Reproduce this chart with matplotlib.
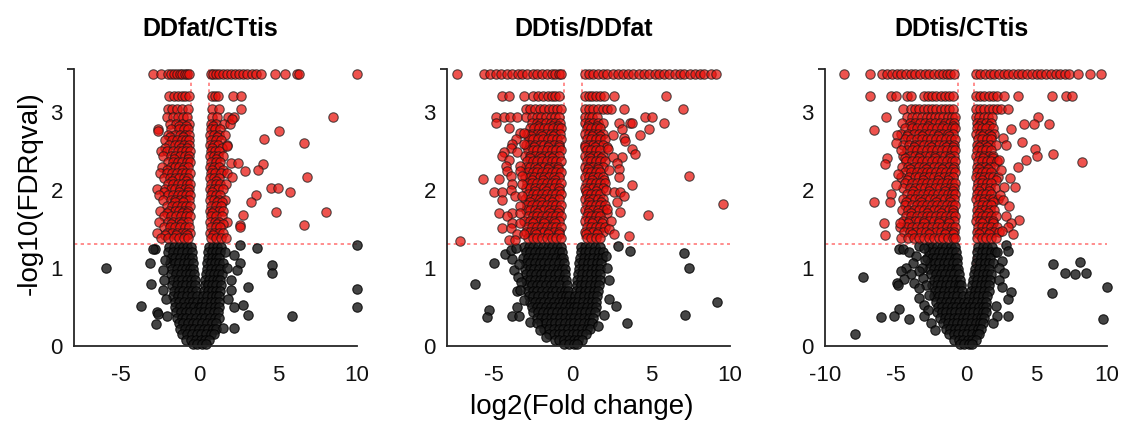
import matplotlib.pyplot as plt

plt.rcParams['font.family'] = ['Liberation Sans', 'DejaVu Sans']
plt.rcParams['axes.unicode_minus'] = False

titles = ['DDfat/CTtis', 'DDtis/DDfat', 'DDtis/CTtis']
x_limits = [(-8, 10), (-8, 10), (-10, 10)]
x_ticks = [[-5, 0, 5, 10], [-5, 0, 5, 10], [-10, -5, 0, 5, 10]]
y_ticks = [0, 1, 2, 3]
y_max = 3.55
fc_cut = 0.585    # log2(1.5)
fdr_cut = 1.301   # -log10(0.05)

# ---------------- DDfat/CTtis ----------------
# significant genes, grouped by -log10(q) level
p1_sig_rows = [
    (3.48, [-2.98, -2.45, -2.05, -1.85, -1.65, -1.45, -1.28, -1.1, -0.95, -0.8, -0.68,
            0.7, 0.85, 1.05, 1.25, 1.5, 1.75, 2.0, 2.25, 2.5, 2.75, 3.0, 3.3, 3.6, 3.9,
            4.8, 5.4, 6.2, 6.3, 10.0]),
    (3.20, [-1.95, -1.65, -1.4, -1.15, -0.95, -0.7, 0.75, 0.95, 1.15, 2.1, 2.65]),
    (3.04, [-2.0, -1.75, -1.45, -1.1, -0.75, 0.8, 1.25, 2.6]),
    (2.93, [-2.1, -1.7, -1.4, -1.05, -0.8, 0.75, 1.1, 1.8, 2.15, 8.5]),
    (2.85, [-1.9, -1.5, -1.1, -0.7, 0.72, 1.05, 1.55, 1.9]),
    (2.82, [-1.3, -0.85, 0.85]),
    (2.78, [-2.65, -1.8, -1.35, -1.0, -0.72, 0.7, 0.95, 1.3]),
    (2.71, [-2.0, -1.6, -1.25, -0.95, -0.68, 0.68, 0.9, 1.2, 1.6]),
    (2.68, [-1.9, -1.05, 1.1]),
    (2.64, [-2.2, -1.75, -1.45, -1.15, -0.85, -0.66, 0.7, 1.0, 1.35]),
    (2.57, [-1.95, -1.55, -1.3, -1.0, -0.7, 0.67, 0.88, 1.15, 1.75]),
    (2.54, [-2.2, -1.2, -0.8, 0.8, 1.4]),
    (2.50, [-2.45, -2.1, -1.7, -1.4, -1.1, -0.85, -0.62, 0.7, 0.95, 1.25]),
    (2.43, [-2.35, -1.85, -1.55, -1.25, -0.95, -0.68, 0.68, 0.9, 1.15, 1.5]),
    (2.40, [-1.65, -0.75, 1.05]),
    (2.36, [-2.0, -1.7, -1.4, -1.1, -0.82, -0.62, 0.7, 1.0, 1.3]),
    (2.29, [-2.4, -1.85, -1.6, -1.3, -1.0, -0.72, 0.66, 0.88, 1.2]),
    (2.26, [-2.1, -1.15, 0.8, 1.45]),
    (2.22, [-2.55, -2.1, -1.75, -1.45, -1.15, -0.85, -0.62, 0.7, 0.98, 1.35, 1.7]),
    (2.15, [-2.3, -1.9, -1.6, -1.3, -1.0, -0.72, 0.68, 0.9, 1.2]),
    (2.12, [-1.75, -0.9, 1.05]),
    (2.08, [-2.0, -1.7, -1.4, -1.1, -0.82, -0.6, 0.7, 1.0, 1.3, 1.65]),
    (2.01, [-2.7, -2.2, -1.85, -1.55, -1.25, -0.95, -0.7, 0.66, 0.9, 1.15, 1.45]),
    (1.98, [-2.3, -1.35, -0.75, 0.8]),
    (1.94, [-2.6, -2.0, -1.7, -1.4, -1.1, -0.85, -0.62, 0.7, 1.0, 1.3]),
    (1.87, [-2.35, -1.85, -1.55, -1.25, -0.95, -0.7, 0.68, 0.92, 1.2, 1.6]),
    (1.84, [-1.6, -1.05, 1.1, 1.4]),
    (1.80, [-2.1, -1.75, -1.45, -1.15, -0.85, -0.62, 0.7, 1.0, 1.35]),
    (1.73, [-2.55, -1.95, -1.6, -1.3, -1.0, -0.72, 0.66, 0.9, 1.2, 1.5]),
    (1.70, [-2.1, -1.15, -0.8, 0.8]),
    (1.66, [-2.25, -1.85, -1.5, -1.2, -0.9, -0.64, 0.7, 1.05, 1.4]),
    (1.59, [-2.6, -2.0, -1.7, -1.35, -1.05, -0.78, 0.68, 0.95, 1.25, 1.7]),
    (1.56, [-1.85, -1.2, 1.1, 1.5]),
    (1.52, [-2.3, -1.9, -1.55, -1.25, -0.95, -0.68, 0.7, 1.0, 1.3]),
    (1.45, [-2.7, -2.1, -1.75, -1.45, -1.15, -0.85, -0.62, 0.66, 0.9, 1.2, 1.5]),
    (1.42, [-2.2, -1.5, -0.8, 0.82]),
    (1.38, [-2.45, -2.0, -1.65, -1.3, -1.0, -0.72, 0.7, 1.0, 1.35, 1.65]),
]
p1_sig_extra = [
    (-2.68, 2.76), (2.07, 2.91), (1.75, 2.56), (5.06, 2.76), (4.07, 2.65), (6.65, 2.6),
    (2.0, 2.35), (2.43, 2.35), (4.05, 2.33), (3.7, 2.26), (2.9, 2.24), (2.07, 2.17),
    (6.8, 2.17), (4.54, 2.03), (5.0, 2.02), (5.74, 1.98), (3.55, 1.94), (3.23, 1.84),
    (4.85, 1.72), (8.06, 1.72), (2.74, 1.68), (2.53, 1.55), (2.55, 1.53), (6.65, 1.55),
]
# non-significant genes
p1_ns_rows = [
    (1.27, [-1.95, -1.65, -1.35, -1.05, -0.8, -0.55, 0.6, 0.85, 1.1, 1.35]),
    (1.20, [-2.0, -1.7, -1.4, -1.1, -0.8, -0.52, 0.55, 0.8, 1.05, 1.3, 1.6]),
    (1.13, [-1.85, -1.55, -1.25, -0.95, -0.7, -0.5, 0.5, 0.75, 1.0, 1.25]),
    (1.06, [-1.9, -1.6, -1.3, -1.0, -0.72, -0.45, 0.48, 0.7, 0.95, 1.2, 1.45]),
    (0.99, [-1.75, -1.45, -1.15, -0.85, -0.6, -0.42, 0.45, 0.7, 1.0, 1.3]),
    (0.92, [-1.8, -1.5, -1.2, -0.9, -0.62, -0.38, 0.4, 0.65, 0.9, 1.15, 1.4]),
    (0.85, [-1.7, -1.4, -1.1, -0.8, -0.55, -0.33, 0.35, 0.6, 0.85, 1.1, 1.3]),
    (0.78, [-1.75, -1.45, -1.15, -0.85, -0.58, -0.3, 0.32, 0.55, 0.8, 1.05, 1.35]),
    (0.71, [-1.65, -1.35, -1.05, -0.75, -0.5, -0.25, 0.28, 0.5, 0.78, 1.05, 1.3]),
    (0.64, [-1.7, -1.4, -1.1, -0.8, -0.5, -0.2, 0.2, 0.45, 0.75, 1.0, 1.25]),
    (0.57, [-1.6, -1.3, -1.0, -0.7, -0.45, -0.15, 0.15, 0.4, 0.7, 0.95, 1.25]),
    (0.50, [-1.55, -1.25, -0.95, -0.65, -0.35, -0.08, 0.1, 0.35, 0.65, 0.95, 1.2]),
    (0.43, [-1.5, -1.2, -0.9, -0.6, -0.3, 0.0, 0.3, 0.6, 0.9, 1.15]),
    (0.36, [-1.45, -1.15, -0.85, -0.55, -0.25, 0.05, 0.35, 0.65, 0.95, 1.2]),
    (0.29, [-1.35, -1.05, -0.75, -0.45, -0.15, 0.15, 0.45, 0.75, 1.05]),
    (0.22, [-1.25, -0.95, -0.65, -0.35, -0.05, 0.25, 0.55, 0.85, 1.05]),
    (0.15, [-1.1, -0.8, -0.5, -0.2, 0.1, 0.4, 0.7, 0.9]),
    (0.08, [-0.85, -0.55, -0.25, 0.05, 0.35, 0.6]),
    (0.02, [-0.45, -0.15, 0.15, 0.4]),
]
p1_ns_extra = [
    (-5.95, 1.0), (-2.85, 1.24), (-3.0, 1.24), (-3.16, 1.07), (-2.32, 0.97), (-2.2, 1.1),
    (-3.12, 0.8), (-2.25, 0.85), (-2.32, 0.72), (-3.73, 0.51), (-2.15, 0.6), (-2.7, 0.44),
    (-2.64, 0.41), (-2.1, 0.38), (-2.78, 0.28),
    (2.53, 1.29), (3.63, 1.25), (10.0, 1.29), (2.2, 1.17), (2.53, 1.06), (4.6, 1.04),
    (4.6, 0.93), (2.38, 0.97), (1.75, 1.0), (1.97, 0.85), (3.06, 0.76), (10.0, 0.73),
    (2.0, 0.72), (1.8, 0.6), (2.2, 0.5), (2.74, 0.53), (10.0, 0.5), (3.06, 0.4),
    (5.86, 0.38), (2.17, 0.23), (1.47, 0.23),
]

# ---------------- DDtis/DDfat ----------------
p2_sig_rows = [
    (3.48, [-7.36, -5.66, -5.25, -4.9, -4.55, -4.2, -3.85, -3.5, -3.2, -2.9, -2.55, -2.25,
            -1.95, -1.65, -1.35, -1.1, -0.9, -0.72,
            0.75, 1.0, 1.3, 1.6, 1.9, 2.2, 2.55, 2.9, 3.2, 3.5, 3.85, 4.2, 4.5, 4.85, 5.2,
            5.5, 5.8, 6.15, 6.5, 6.8, 7.1, 7.45, 7.8, 8.1, 8.35, 8.8, 9.1]),
    (3.21, [-4.5, -4.07, -3.12, -2.5, -2.2, -1.9, -1.6, -1.35, -1.1, -0.85,
            0.75, 1.0, 1.25, 1.5, 1.75, 2.0, 2.6, 5.95]),
    (3.04, [-3.0, -2.7, -2.4, -2.1, -1.8, -1.5, -1.25, -1.0, -0.75,
            0.75, 1.0, 1.3, 1.6, 1.9, 2.2, 2.4, 3.28, 7.02]),
    (2.93, [-4.9, -4.4, -4.0, -3.55, -2.96, -2.6, -2.3, -2.0, -1.7, -1.4, -1.1, -0.85,
            0.75, 1.0, 1.25, 1.55, 4.62, 5.04]),
    (2.86, [-2.6, -2.3, -2.0, -1.7, -1.4, -1.1, -0.8, 0.75, 1.02, 1.3, 1.6, 1.9]),
    (2.82, [-2.2, -1.3, -0.95, 0.95, 1.55]),
    (2.79, [-2.75, -2.45, -2.15, -1.85, -1.55, -1.25, -0.95, -0.75, 0.88, 1.15, 1.45, 1.75]),
    (2.72, [-2.9, -2.6, -2.3, -2.0, -1.7, -1.4, -1.1, -0.82, 0.75, 1.02, 1.3, 1.6, 1.9]),
    (2.69, [-2.65, -1.95, -1.25, 1.2, 1.7]),
    (2.65, [-2.8, -2.5, -2.2, -1.9, -1.6, -1.3, -1.0, -0.76, 0.88, 1.15, 1.45, 1.75, 2.05]),
    (2.58, [-3.0, -2.7, -2.4, -2.1, -1.8, -1.5, -1.2, -0.9, 0.75, 1.02, 1.3, 1.6, 1.9]),
    (2.55, [-2.45, -1.6, -0.85, 0.8, 1.4, 2.2]),
    (2.51, [-2.85, -2.55, -2.25, -1.95, -1.65, -1.35, -1.05, -0.78, 0.88, 1.15, 1.45, 1.75]),
    (2.44, [-3.05, -2.7, -2.4, -2.1, -1.8, -1.5, -1.2, -0.9, 0.75, 1.02, 1.3, 1.6, 1.9]),
    (2.41, [-2.75, -2.0, -1.35, 1.1, 1.8]),
    (2.37, [-2.9, -2.55, -2.25, -1.95, -1.65, -1.35, -1.05, -0.78, 0.88, 1.15, 1.45, 1.75, 2.05]),
    (2.30, [-3.0, -2.7, -2.4, -2.1, -1.8, -1.5, -1.2, -0.92, 0.75, 1.02, 1.3, 1.6, 1.9]),
    (2.27, [-2.3, -1.55, -0.95, 0.95, 1.6]),
    (2.23, [-2.85, -2.55, -2.25, -1.95, -1.65, -1.35, -1.05, -0.76, 0.88, 1.15, 1.45, 1.75]),
    (2.16, [-3.05, -2.75, -2.45, -2.1, -1.8, -1.5, -1.2, -0.9, 0.75, 1.02, 1.3, 1.6, 1.9]),
    (2.13, [-2.6, -1.9, -1.1, 1.2, 2.0]),
    (2.09, [-2.9, -2.6, -2.3, -1.95, -1.65, -1.35, -1.05, -0.78, 0.88, 1.15, 1.45, 1.75, 2.05]),
    (2.02, [-3.0, -2.7, -2.4, -2.1, -1.8, -1.5, -1.2, -0.9, 0.75, 1.02, 1.3, 1.6, 1.9]),
    (1.99, [-2.4, -1.7, -0.85, 0.85, 1.5]),
    (1.95, [-2.85, -2.55, -2.25, -1.95, -1.65, -1.35, -1.05, -0.76, 0.88, 1.15, 1.45, 1.75]),
    (1.88, [-3.05, -2.75, -2.4, -2.1, -1.8, -1.5, -1.2, -0.9, 0.75, 1.02, 1.3, 1.6, 1.9]),
    (1.85, [-2.75, -2.05, -1.3, 1.05, 1.8]),
    (1.81, [-2.9, -2.6, -2.25, -1.95, -1.65, -1.35, -1.05, -0.78, 0.88, 1.15, 1.45, 1.75, 2.05]),
    (1.74, [-3.0, -2.7, -2.4, -2.1, -1.8, -1.5, -1.2, -0.9, 0.75, 1.02, 1.3, 1.6, 1.9]),
    (1.71, [-2.25, -1.45, -0.95, 0.95, 1.6, 2.15]),
    (1.67, [-2.85, -2.55, -2.25, -1.95, -1.65, -1.35, -1.05, -0.76, 0.88, 1.15, 1.45, 1.75]),
    (1.60, [-3.1, -2.75, -2.4, -2.1, -1.8, -1.5, -1.2, -0.9, 0.75, 1.02, 1.3, 1.6, 1.9]),
    (1.57, [-2.55, -1.85, -1.15, 1.2, 1.85]),
    (1.53, [-2.9, -2.6, -2.25, -1.95, -1.65, -1.35, -1.05, -0.78, 0.88, 1.15, 1.45, 1.75, 2.05]),
    (1.46, [-3.0, -2.7, -2.4, -2.1, -1.8, -1.5, -1.2, -0.9, 0.75, 1.02, 1.3, 1.6, 1.9]),
    (1.43, [-2.35, -1.6, -0.9, 0.85, 1.55]),
    (1.39, [-2.85, -2.55, -2.25, -1.95, -1.65, -1.35, -1.05, -0.76, 0.88, 1.15, 1.45, 1.75]),
]
p2_sig_extra = [
    (-4.9, 2.86), (-4.07, 2.79), (-3.33, 2.73), (-3.12, 2.73), (-3.6, 2.65), (-3.86, 2.59),
    (-3.12, 2.59), (-3.96, 2.54), (-4.38, 2.48), (-3.54, 2.48), (-4.48, 2.44), (-4.07, 2.39),
    (-4.27, 2.31), (-3.33, 2.31), (-4.17, 2.24), (-3.33, 2.24), (-3.96, 2.18), (-3.23, 2.18),
    (-5.74, 2.14), (-4.69, 2.14), (-3.86, 2.07), (-3.23, 2.07), (-3.96, 2.0), (-5.01, 1.98),
    (-4.48, 1.98), (-3.65, 1.92), (-3.23, 1.92), (-4.48, 1.87), (-3.33, 1.79), (-4.69, 1.7),
    (-3.86, 1.7), (-3.33, 1.7), (-4.17, 1.66), (-3.86, 1.57), (-3.33, 1.57), (-4.48, 1.51),
    (-3.96, 1.51), (-3.54, 1.44), (-3.12, 1.44), (-4.07, 1.36), (-3.65, 1.36), (-7.17, 1.34),
    (2.92, 2.86), (3.66, 2.86), (3.77, 2.86), (5.78, 2.86), (4.83, 2.78), (3.13, 2.78),
    (4.26, 2.71), (2.56, 2.71), (3.24, 2.67), (3.34, 2.63), (3.77, 2.53), (2.22, 2.53),
    (3.98, 2.46), (3.13, 2.42), (2.56, 2.42), (2.81, 2.35), (2.92, 2.27), (2.3, 2.25),
    (7.38, 2.18), (2.92, 2.16), (3.77, 2.06), (2.1, 2.0), (2.6, 1.97), (2.98, 1.97),
    (3.24, 1.92), (2.81, 1.84), (9.54, 1.82), (2.2, 1.75), (3.03, 1.72), (4.79, 1.68),
    (2.43, 1.6), (2.3, 1.5), (2.6, 1.43), (3.56, 1.41),
]
p2_ns_rows = [
    (1.27, [-3.1, -2.8, -2.5, -2.2, -1.9, -1.6, -1.3, -1.0, -0.73, 0.52, 0.8, 1.1, 1.4, 1.7]),
    (1.20, [-3.0, -2.7, -2.4, -2.1, -1.8, -1.5, -1.2, -0.9, -0.68, 0.5, 0.75, 1.05, 1.35, 1.65, 1.95]),
    (1.13, [-3.15, -2.85, -2.55, -2.25, -1.95, -1.65, -1.35, -1.05, -0.78, -0.62,
            0.45, 0.7, 1.0, 1.3, 1.6, 1.85]),
    (1.06, [-3.0, -2.7, -2.4, -2.1, -1.8, -1.5, -1.2, -0.9, -0.58, 0.42, 0.68, 0.95, 1.25, 1.55, 1.8]),
    (0.99, [-3.05, -2.75, -2.45, -2.15, -1.85, -1.55, -1.25, -0.95, -0.7, -0.52,
            0.38, 0.62, 0.9, 1.2, 1.5, 1.75]),
    (0.92, [-2.95, -2.65, -2.35, -2.05, -1.75, -1.45, -1.15, -0.85, -0.48,
            0.35, 0.6, 0.88, 1.15, 1.45, 1.7]),
    (0.85, [-3.0, -2.7, -2.4, -2.1, -1.8, -1.5, -1.2, -0.9, -0.65, -0.42,
            0.3, 0.55, 0.85, 1.15, 1.45, 1.7]),
    (0.78, [-2.9, -2.6, -2.3, -2.0, -1.7, -1.4, -1.1, -0.8, -0.36, 0.25, 0.5, 0.8, 1.1, 1.4, 1.65]),
    (0.71, [-2.85, -2.55, -2.25, -1.95, -1.65, -1.35, -1.05, -0.75, -0.5, -0.3,
            0.2, 0.45, 0.75, 1.05, 1.35, 1.6]),
    (0.64, [-2.8, -2.5, -2.2, -1.9, -1.6, -1.3, -1.0, -0.7, -0.45, -0.22,
            0.15, 0.4, 0.7, 1.0, 1.3, 1.55]),
    (0.57, [-2.7, -2.4, -2.1, -1.8, -1.5, -1.2, -0.9, -0.6, -0.35, -0.12,
            0.1, 0.35, 0.65, 0.95, 1.25, 1.5]),
    (0.50, [-2.6, -2.3, -2.0, -1.7, -1.4, -1.1, -0.8, -0.5, -0.2, 0.05, 0.3, 0.6, 0.9, 1.2, 1.45]),
    (0.43, [-2.5, -2.2, -1.9, -1.6, -1.3, -1.0, -0.7, -0.4, -0.1, 0.2, 0.5, 0.8, 1.1, 1.4]),
    (0.36, [-2.3, -2.0, -1.7, -1.4, -1.1, -0.8, -0.5, -0.2, 0.1, 0.4, 0.7, 1.0, 1.3]),
    (0.29, [-2.0, -1.7, -1.4, -1.1, -0.8, -0.5, -0.2, 0.1, 0.4, 0.7, 1.0, 1.2]),
    (0.22, [-1.8, -1.5, -1.2, -0.9, -0.6, -0.3, 0.0, 0.3, 0.6, 0.9, 1.1]),
    (0.15, [-1.5, -1.2, -0.9, -0.6, -0.3, 0.0, 0.3, 0.6, 0.85]),
    (0.08, [-1.15, -0.85, -0.55, -0.25, 0.05, 0.35, 0.6]),
    (0.02, [-0.55, -0.25, 0.05, 0.3]),
]
p2_ns_extra = [
    (-4.3, 1.18), (-5.04, 1.06), (-6.2, 0.8), (-3.87, 1.12), (-3.96, 1.23), (-3.6, 1.25),
    (-3.73, 0.97), (-3.4, 1.05), (-3.5, 0.89), (-3.3, 0.82), (-3.55, 0.7), (-3.34, 0.72),
    (-3.13, 0.59), (-3.54, 0.5), (-5.3, 0.46), (-5.47, 0.37), (-3.87, 0.38), (-3.45, 0.38),
    (-2.75, 0.31), (-2.3, 0.3), (-2.1, 0.2), (-1.7, 0.12),
    (2.9, 1.28), (3.63, 1.22), (2.1, 1.15), (7.09, 1.19), (7.4, 1.0), (2.2, 1.0), (2.3, 0.85),
    (2.3, 0.6), (2.74, 0.51), (9.18, 0.57), (7.15, 0.4), (2.0, 0.4), (3.48, 0.29), (1.6, 0.25),
]

# ---------------- DDtis/CTtis ----------------
p3_sig_rows = [
    (3.48, [-8.65, -6.8, -5.93, -5.6, -5.25, -4.9, -4.6, -4.25, -3.9, -3.6, -3.25, -2.9,
            -2.6, -2.25, -1.95, -1.65, -1.35, -1.1, -0.88,
            0.72, 1.0, 1.35, 1.7, 2.0, 2.35, 2.7, 3.0, 3.35, 3.7, 4.0, 4.35, 4.7, 5.0, 5.35,
            5.7, 6.0, 6.35, 6.7, 7.0, 7.3, 7.97, 8.8, 9.6]),
    (3.20, [-6.8, -5.34, -4.98, -4.2, -3.92, -3.0, -2.7, -2.4, -2.1, -1.8, -1.5, -1.2, -0.9,
            0.72, 1.0, 1.3, 1.6, 1.9, 2.2, 2.7, 3.71, 6.08, 7.07, 7.54]),
    (3.04, [-4.5, -3.9, -3.6, -3.3, -3.0, -2.7, -2.4, -2.1, -1.8, -1.5, -1.2, -0.9,
            0.7, 1.0, 1.3, 1.6, 1.9, 2.2, 2.5, 3.0]),
    (2.93, [-5.7, -4.2, -3.8, -3.45, -3.1, -2.8, -2.5, -2.2, -1.9, -1.6, -1.3, -1.0, -0.8,
            0.7, 0.95, 1.25, 1.55, 1.85, 5.08]),
    (2.86, [-4.55, -4.0, -3.6, -3.25, -2.9, -2.55, -2.2, -1.85, -1.5, -1.15, -0.82,
            0.75, 1.05, 1.4, 1.75]),
    (2.82, [-3.9, -2.7, -1.6, -0.95, 0.95, 1.6]),
    (2.79, [-4.3, -3.85, -3.45, -3.1, -2.75, -2.4, -2.05, -1.7, -1.35, -1.0, -0.78,
            0.8, 1.12, 1.45, 1.9]),
    (2.72, [-4.6, -4.1, -3.7, -3.35, -3.0, -2.65, -2.3, -1.95, -1.6, -1.25, -0.9,
            0.72, 1.0, 1.3, 1.62, 2.0]),
    (2.69, [-4.2, -3.1, -2.0, -1.2, 1.15, 1.8]),
    (2.65, [-4.35, -3.9, -3.5, -3.15, -2.8, -2.45, -2.1, -1.75, -1.4, -1.05, -0.8,
            0.85, 1.15, 1.48, 1.8]),
    (2.58, [-4.5, -4.05, -3.65, -3.3, -2.95, -2.6, -2.25, -1.9, -1.55, -1.2, -0.88,
            0.75, 1.05, 1.35, 1.68, 2.1]),
    (2.55, [-3.7, -2.5, -1.45, -0.9, 0.9, 1.5]),
    (2.51, [-4.2, -3.8, -3.45, -3.1, -2.75, -2.4, -2.05, -1.7, -1.35, -1.0, -0.78,
            0.8, 1.1, 1.42, 1.75]),
    (2.44, [-4.45, -4.0, -3.6, -3.25, -2.9, -2.55, -2.2, -1.85, -1.5, -1.15, -0.85,
            0.72, 1.0, 1.3, 1.62, 1.95]),
    (2.41, [-4.3, -3.3, -2.2, -1.1, 1.2, 1.9]),
    (2.37, [-4.25, -3.85, -3.45, -3.1, -2.75, -2.4, -2.05, -1.7, -1.35, -1.0, -0.78,
            0.85, 1.15, 1.48, 1.8, 2.2]),
    (2.30, [-4.55, -4.1, -3.7, -3.3, -2.95, -2.6, -2.25, -1.9, -1.55, -1.2, -0.88,
            0.75, 1.05, 1.35, 1.68, 2.0]),
    (2.27, [-3.95, -2.85, -1.7, -0.95, 0.95, 1.55]),
    (2.23, [-4.3, -3.9, -3.5, -3.15, -2.8, -2.45, -2.1, -1.75, -1.4, -1.05, -0.8,
            0.8, 1.1, 1.42, 1.75]),
    (2.16, [-4.6, -4.05, -3.65, -3.3, -2.95, -2.6, -2.25, -1.9, -1.55, -1.2, -0.9,
            0.72, 1.0, 1.3, 1.62, 1.95, 2.3]),
    (2.13, [-4.15, -3.05, -2.0, -1.25, 1.15, 2.1]),
    (2.09, [-4.35, -3.85, -3.45, -3.1, -2.75, -2.4, -2.05, -1.7, -1.35, -1.0, -0.78,
            0.85, 1.15, 1.48, 1.8]),
    (2.02, [-4.5, -4.0, -3.6, -3.25, -2.9, -2.55, -2.2, -1.85, -1.5, -1.15, -0.85,
            0.75, 1.05, 1.35, 1.68, 2.05]),
    (1.99, [-3.75, -2.65, -1.5, -0.9, 0.9, 1.6]),
    (1.95, [-4.2, -3.8, -3.4, -3.05, -2.7, -2.35, -2.0, -1.65, -1.3, -0.98, -0.76,
            0.8, 1.1, 1.42, 1.75]),
    (1.88, [-4.45, -4.0, -3.6, -3.25, -2.9, -2.55, -2.2, -1.85, -1.5, -1.15, -0.88,
            0.72, 1.0, 1.3, 1.62, 1.95, 2.25]),
    (1.85, [-4.25, -3.2, -2.15, -1.1, 1.2, 1.95]),
    (1.81, [-4.3, -3.85, -3.45, -3.1, -2.75, -2.4, -2.05, -1.7, -1.35, -1.0, -0.78,
            0.85, 1.15, 1.48, 1.8]),
    (1.74, [-4.55, -4.1, -3.7, -3.3, -2.95, -2.6, -2.25, -1.9, -1.55, -1.2, -0.9,
            0.75, 1.05, 1.35, 1.68, 2.0]),
    (1.71, [-3.9, -2.8, -1.75, -0.95, 0.95, 1.55]),
    (1.67, [-4.25, -3.9, -3.5, -3.15, -2.8, -2.45, -2.1, -1.75, -1.4, -1.05, -0.8,
            0.8, 1.1, 1.42, 1.75, 2.1]),
    (1.60, [-4.5, -4.05, -3.65, -3.3, -2.95, -2.6, -2.25, -1.9, -1.55, -1.2, -0.88,
            0.72, 1.0, 1.3, 1.62, 1.95]),
    (1.57, [-4.1, -3.0, -1.95, -1.2, 1.15, 1.9]),
    (1.53, [-4.65, -4.2, -3.8, -3.45, -3.1, -2.75, -2.4, -2.05, -1.7, -1.35, -1.0, -0.78,
            0.85, 1.15, 1.48, 1.8, 2.2]),
    (1.46, [-4.4, -3.95, -3.55, -3.2, -2.85, -2.5, -2.15, -1.8, -1.45, -1.1, -0.85,
            0.75, 1.05, 1.35, 1.68, 2.0, 2.35]),
    (1.43, [-3.8, -2.6, -1.5, -0.9, 0.9, 1.6]),
    (1.39, [-4.6, -4.1, -3.7, -3.35, -3.0, -2.65, -2.3, -1.95, -1.6, -1.25, -0.92, -0.76,
            0.8, 1.1, 1.42, 1.75, 2.1]),
]
p3_sig_extra = [
    (-6.52, 2.77), (-4.92, 2.71), (-5.0, 2.6), (-4.63, 2.51), (-5.63, 2.41), (-5.75, 2.33),
    (-4.8, 2.2), (-4.99, 2.06), (-5.3, 1.95), (-6.52, 1.84), (-5.4, 1.84), (-4.68, 1.58),
    (-5.82, 1.58), (-5.74, 1.42),
    (4.13, 2.84), (4.84, 2.84), (5.86, 2.84), (3.19, 2.78), (2.6, 2.66), (3.95, 2.61),
    (2.83, 2.58), (4.92, 2.53), (6.19, 2.46), (5.01, 2.44), (4.25, 2.39), (2.36, 2.39),
    (8.2, 2.36), (3.66, 2.3), (2.48, 2.26), (3.12, 2.15), (3.5, 2.04), (2.72, 2.04),
    (2.41, 1.94), (2.6, 1.87), (3.07, 1.79), (2.83, 1.66), (3.73, 1.62), (3.19, 1.57),
    (2.95, 1.53), (2.55, 1.47), (3.31, 1.44),
]
p3_ns_rows = [
    (1.27, [-2.7, -2.38, -2.05, -1.72, -1.4, -1.08, -0.75, 0.85, 1.18, 1.5, 1.85]),
    (1.20, [-2.6, -2.27, -1.95, -1.62, -1.3, -0.98, -0.72, 0.8, 1.1, 1.42, 1.75, 2.05]),
    (1.13, [-2.75, -2.42, -2.1, -1.78, -1.45, -1.12, -0.8, -0.65, 0.75, 1.05, 1.38, 1.7]),
    (1.06, [-2.55, -2.22, -1.9, -1.58, -1.25, -0.92, -0.62, 0.68, 1.0, 1.32, 1.65, 1.95]),
    (0.99, [-2.6, -2.28, -1.95, -1.62, -1.3, -0.98, -0.7, -0.55, 0.62, 0.95, 1.28, 1.6]),
    (0.92, [-2.45, -2.12, -1.8, -1.48, -1.15, -0.82, -0.5, 0.55, 0.88, 1.2, 1.52, 1.8]),
    (0.85, [-2.3, -1.98, -1.65, -1.32, -1.0, -0.68, -0.45, 0.48, 0.8, 1.12, 1.45, 1.7]),
    (0.78, [-2.4, -2.08, -1.75, -1.42, -1.1, -0.78, -0.5, -0.38, 0.4, 0.72, 1.05, 1.38, 1.65]),
    (0.71, [-2.2, -1.88, -1.55, -1.22, -0.9, -0.6, -0.3, 0.32, 0.62, 0.95, 1.28, 1.6]),
    (0.64, [-2.25, -1.92, -1.6, -1.28, -0.95, -0.62, -0.22, 0.22, 0.55, 0.88, 1.2, 1.5]),
    (0.57, [-2.1, -1.78, -1.45, -1.12, -0.8, -0.48, -0.15, 0.15, 0.48, 0.8, 1.12, 1.45]),
    (0.50, [-2.0, -1.68, -1.35, -1.02, -0.7, -0.38, -0.05, 0.25, 0.58, 0.9, 1.22, 1.45]),
    (0.43, [-2.05, -1.72, -1.4, -1.08, -0.75, -0.42, -0.1, 0.2, 0.52, 0.85, 1.18, 1.4]),
    (0.36, [-1.85, -1.52, -1.2, -0.88, -0.55, -0.22, 0.1, 0.42, 0.75, 1.05, 1.3]),
    (0.29, [-1.6, -1.28, -0.95, -0.62, -0.3, 0.02, 0.35, 0.68, 1.0, 1.2]),
    (0.22, [-1.45, -1.12, -0.8, -0.48, -0.15, 0.18, 0.5, 0.82, 1.05]),
    (0.15, [-1.2, -0.88, -0.55, -0.22, 0.1, 0.42, 0.75, 0.95]),
    (0.08, [-0.85, -0.52, -0.2, 0.12, 0.45, 0.7]),
    (0.02, [-0.45, -0.12, 0.2, 0.45]),
]
p3_ns_extra = [
    (-4.73, 1.24), (-4.49, 1.24), (-4.02, 1.21), (-3.3, 1.28), (-3.0, 1.25), (-3.55, 1.15),
    (-2.9, 1.1), (-3.79, 1.06), (-4.26, 1.0), (-3.1, 1.0), (-4.61, 0.96), (-3.31, 0.96),
    (-3.9, 0.92), (-4.37, 0.86), (-3.08, 0.87), (-3.67, 0.81), (-4.87, 0.81), (-4.85, 0.78),
    (-2.84, 0.78), (-3.36, 0.74), (-2.6, 0.65), (-3.31, 0.62), (-2.96, 0.53), (-4.73, 0.48),
    (-2.72, 0.46), (-2.96, 0.39), (-5.08, 0.38), (-4.02, 0.34), (-2.5, 0.3), (-2.2, 0.2),
    (-6.0, 0.37), (-7.28, 0.88), (-7.9, 0.15),
    (2.84, 1.29), (3.0, 1.22), (2.2, 1.2), (2.57, 1.09), (2.35, 1.0), (2.69, 0.94),
    (2.34, 0.84), (2.53, 0.76), (3.17, 0.69), (3.0, 0.6), (2.1, 0.51), (2.22, 0.38),
    (3.0, 0.38), (1.9, 0.3), (6.19, 1.05), (8.06, 1.08), (7.02, 0.94), (7.73, 0.92),
    (8.49, 0.93), (6.08, 0.68), (10.0, 0.75), (9.74, 0.35),
]

panels = [
    (p1_sig_rows, p1_sig_extra, p1_ns_rows, p1_ns_extra),
    (p2_sig_rows, p2_sig_extra, p2_ns_rows, p2_ns_extra),
    (p3_sig_rows, p3_sig_extra, p3_ns_rows, p3_ns_extra),
]


def flatten(rows, extra):
    xs, ys = [], []
    for y, row in rows:
        xs += row
        ys += [y] * len(row)
    for x, y in extra:
        xs.append(x)
        ys.append(y)
    return xs, ys


W, H = 1129, 422
fig = plt.figure(figsize=(W / 100, H / 100), dpi=100)

ax_left = [74, 447, 825]
ax_width = [283, 283, 282]
ax_bottom, ax_height = 76, 277

line_kw = dict(color='#ff7a7a', lw=1.2, ls=(0, (2, 2)), zorder=1)
dot_kw = dict(s=46, linewidths=0.8, clip_on=False)

for i, (sig_rows, sig_extra, ns_rows, ns_extra) in enumerate(panels):
    ax = fig.add_axes([ax_left[i] / W, ax_bottom / H, ax_width[i] / W, ax_height / H])

    ax.axhline(fdr_cut, **line_kw)
    ax.axvline(-fc_cut, **line_kw)
    ax.axvline(fc_cut, **line_kw)

    nx, ny = flatten(ns_rows, ns_extra)
    sx, sy = flatten(sig_rows, sig_extra)
    ax.scatter(nx, ny, facecolor='#1c1c1c', edgecolor='black', alpha=0.82, zorder=2, **dot_kw)
    ax.scatter(sx, sy, facecolor='#e8100a', edgecolor='#1a1a1a', alpha=0.72, zorder=3, **dot_kw)

    ax.set_xlim(*x_limits[i])
    ax.set_ylim(0, y_max)
    ax.set_xticks(x_ticks[i])
    ax.set_yticks(y_ticks)
    ax.set_xticks([x_limits[i][1]], minor=True)
    ax.set_yticks([0, y_max], minor=True)

    for side in ['top', 'right']:
        ax.spines[side].set_visible(False)
    for side in ['left', 'bottom']:
        ax.spines[side].set_linewidth(1.3)
        ax.spines[side].set_color('#262626')

    ax.tick_params(which='major', length=0, labelsize=16, colors='#111111')
    ax.tick_params(axis='y', which='major', pad=8)
    ax.tick_params(axis='x', which='major', pad=14)
    ax.tick_params(axis='y', which='minor', length=5, width=1.3, direction='out', color='#262626')
    ax.tick_params(axis='x', which='minor', length=4, width=1.3, direction='in', color='#262626')

    cx = (ax_left[i] + ax_width[i] / 2 - 5) / W
    fig.text(cx, 1 - 28 / H, titles[i], ha='center', va='center',
             fontsize=18, fontweight='bold')

fig.text(582 / W, 1 - 407 / H, 'log2(Fold change)', ha='center', va='center', fontsize=20)
fig.text(30 / W, 1 - 193 / H, '-log10(FDRqval)', ha='center', va='center',
         rotation=90, fontsize=20)

fig.savefig('out.png', dpi=100)
